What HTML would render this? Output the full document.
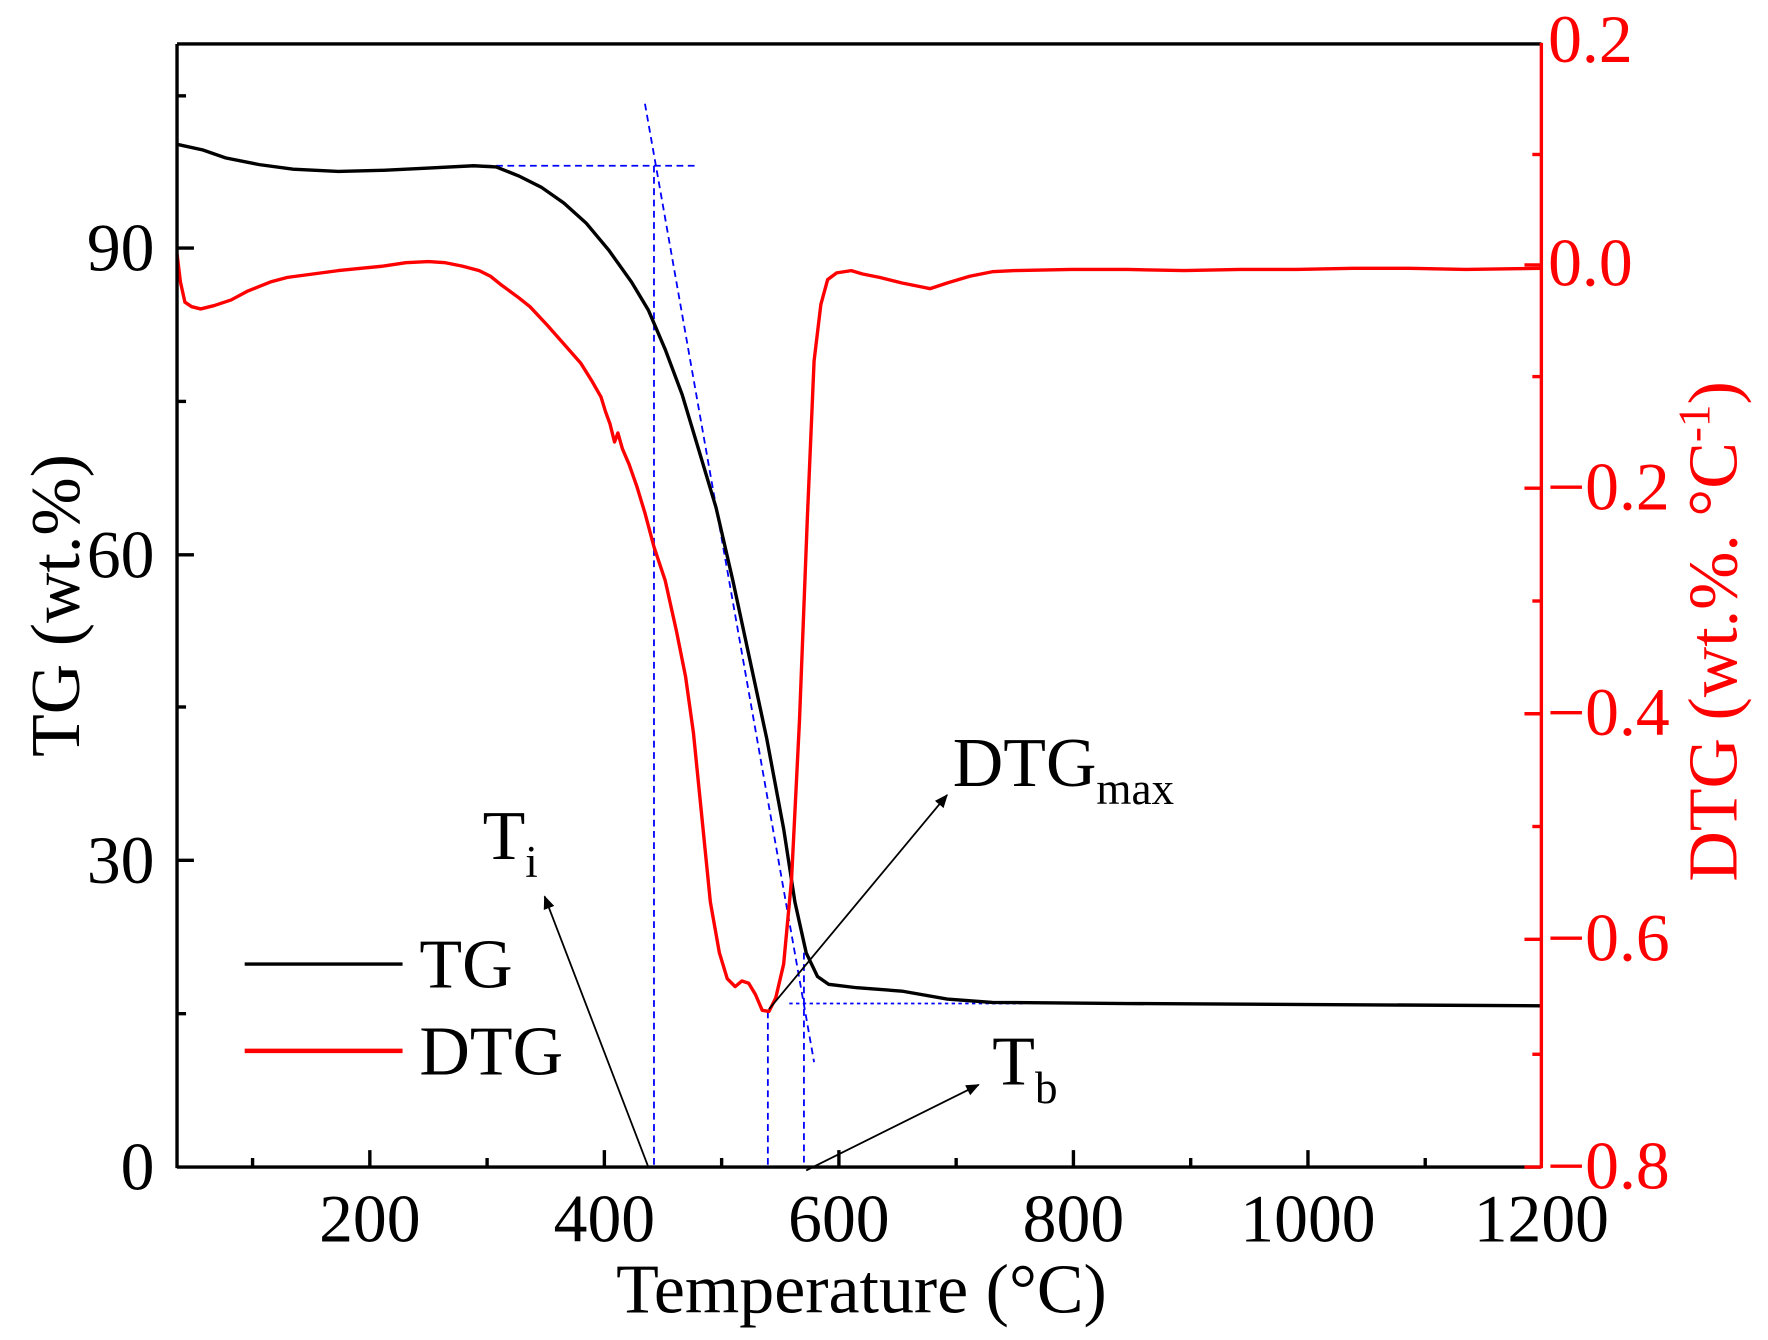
<!DOCTYPE html>
<html><head><meta charset="utf-8"><style>
html,body{margin:0;padding:0;background:#fff;}
svg{display:block;}
text{font-family:"Liberation Serif",serif;}
</style></head><body>
<svg width="1768" height="1340" viewBox="0 0 1568 1188.4" preserveAspectRatio="none" xmlns="http://www.w3.org/2000/svg">
<defs>
<marker id="ah" markerWidth="12" markerHeight="12" refX="11" refY="6" orient="auto" markerUnits="userSpaceOnUse" viewBox="0 0 12 12"><path d="M0,1 L12,6 L0,11 z" fill="#000"/></marker>
</defs>
<g stroke="#0000ff" stroke-width="1.6" fill="none" stroke-dasharray="6,4">
<line x1="430" y1="147" x2="620" y2="147"/>
<line x1="572" y1="92" x2="722" y2="942"/>
<line x1="580" y1="147" x2="580" y2="1035"/>
<line x1="681" y1="897" x2="681" y2="1035"/>
<line x1="713" y1="845" x2="713" y2="1035"/>
<line x1="700" y1="890" x2="910" y2="890" stroke-dasharray="3,3"/>
</g>
<polyline fill="none" stroke="#000" stroke-width="3" points="157,128 180,133 200,140 230,146 260,150 300,152 340,151 380,149 420,147 440,148 460,156 480,166 500,180 520,198 540,222 560,250 575,275 590,310 605,350 620,400 635,450 650,515 665,585 680,655 695,735 705,800 715,845 725,866 735,873 760,876 800,879 840,886 880,889 1000,890 1367,892"/>
<polyline fill="none" stroke="#ff0000" stroke-width="3" stroke-linejoin="round" points="157,225 160,250 164,268 170,272 178,274 190,271 205,266 220,258 240,250 255,246 270,244 285,242 300,240 320,238 340,236 360,233 380,232 395,233 410,236 425,240 435,245 445,253 460,264 470,272 485,288 500,305 515,322 525,338 533,352 537,365 541,376 545,392 548,384 552,398 558,412 565,432 572,455 580,485 590,515 600,560 608,600 615,650 622,720 630,800 638,845 645,868 652,875 658,870 664,872 670,882 676,896 682,897 688,885 695,855 702,780 709,640 716,460 722,320 728,270 734,248 742,242 755,240 765,243 780,246 800,251 815,254 825,256 840,251 860,245 880,241 900,240 950,239 1000,239 1050,240 1100,239 1150,239 1200,238 1250,238 1300,239 1367,238"/>
<g stroke="#000" stroke-width="1.6" fill="none">
<line x1="575" y1="1035" x2="483" y2="795" marker-end="url(#ah)"/>
<line x1="682" y1="895" x2="840" y2="705" marker-end="url(#ah)"/>
<line x1="715" y1="1038" x2="868" y2="962" marker-end="url(#ah)"/>
</g>
<line x1="157" y1="39" x2="1367" y2="39" stroke="#000" stroke-width="3"/>
<line x1="157" y1="39" x2="157" y2="1036" stroke="#000" stroke-width="3"/>
<line x1="157" y1="1035" x2="1367" y2="1035" stroke="#000" stroke-width="3"/>
<line x1="1367" y1="38" x2="1367" y2="1036" stroke="#ff0000" stroke-width="3"/>
<g stroke="#000" stroke-width="3">
<line x1="328" y1="1035" x2="328" y2="1020"/><line x1="536" y1="1035" x2="536" y2="1020"/><line x1="744" y1="1035" x2="744" y2="1020"/><line x1="952" y1="1035" x2="952" y2="1020"/><line x1="1160" y1="1035" x2="1160" y2="1020"/>
<line x1="224" y1="1035" x2="224" y2="1027"/><line x1="432" y1="1035" x2="432" y2="1027"/><line x1="640" y1="1035" x2="640" y2="1027"/><line x1="848" y1="1035" x2="848" y2="1027"/><line x1="1056" y1="1035" x2="1056" y2="1027"/><line x1="1264" y1="1035" x2="1264" y2="1027"/>
<line x1="157" y1="763" x2="172" y2="763"/><line x1="157" y1="492" x2="172" y2="492"/><line x1="157" y1="220" x2="172" y2="220"/>
<line x1="157" y1="899" x2="165" y2="899"/><line x1="157" y1="627" x2="165" y2="627"/><line x1="157" y1="356" x2="165" y2="356"/><line x1="157" y1="85" x2="165" y2="85"/>
</g>
<g stroke="#ff0000" stroke-width="3">
<line x1="1367" y1="235" x2="1352" y2="235"/><line x1="1367" y1="433" x2="1352" y2="433"/><line x1="1367" y1="633" x2="1352" y2="633"/><line x1="1367" y1="833" x2="1352" y2="833"/><line x1="1367" y1="1035" x2="1352" y2="1035"/>
<line x1="1367" y1="137" x2="1359" y2="137"/><line x1="1367" y1="334" x2="1359" y2="334"/><line x1="1367" y1="533" x2="1359" y2="533"/><line x1="1367" y1="733" x2="1359" y2="733"/><line x1="1367" y1="935" x2="1359" y2="935"/>
</g>
<g font-size="60" fill="#000" text-anchor="middle">
<text x="328" y="1101">200</text><text x="536" y="1101">400</text><text x="744" y="1101">600</text><text x="952" y="1101">800</text><text x="1160" y="1101">1000</text><text x="1367" y="1101">1200</text>
</g>
<g font-size="60" fill="#000" text-anchor="end">
<text x="137" y="1055">0</text><text x="137" y="783">30</text><text x="137" y="512">60</text><text x="137" y="240">90</text>
</g>
<g font-size="60" fill="#ff0000">
<text x="1373" y="55">0.2</text><text x="1373" y="253">0.0</text><text x="1372" y="452">−0.2</text><text x="1372" y="652">−0.4</text><text x="1372" y="852">−0.6</text><text x="1372" y="1054">−0.8</text>
</g>
<text x="764" y="1164" font-size="62" text-anchor="middle">Temperature (°C)</text>
<text transform="translate(70,537) rotate(-90)" font-size="62" text-anchor="middle">TG (wt.%)</text>
<text transform="translate(1540,560) rotate(-90)" font-size="62" text-anchor="middle" fill="#ff0000">DTG (wt.%. °C<tspan font-size="40" dy="-24">-1</tspan><tspan dy="24">)</tspan></text>
<line x1="217" y1="855" x2="357" y2="855" stroke="#000" stroke-width="3"/>
<text x="372" y="876" font-size="62">TG</text>
<line x1="217" y1="932" x2="357" y2="932" stroke="#ff0000" stroke-width="4"/>
<text x="372" y="953" font-size="62">DTG</text>
<text x="428" y="762" font-size="62">T<tspan font-size="40" dy="16">i</tspan></text>
<text x="845" y="697" font-size="62">DTG<tspan font-size="40" dy="16">max</tspan></text>
<text x="880" y="962" font-size="62">T<tspan font-size="40" dy="16">b</tspan></text>
</svg>
</body></html>
